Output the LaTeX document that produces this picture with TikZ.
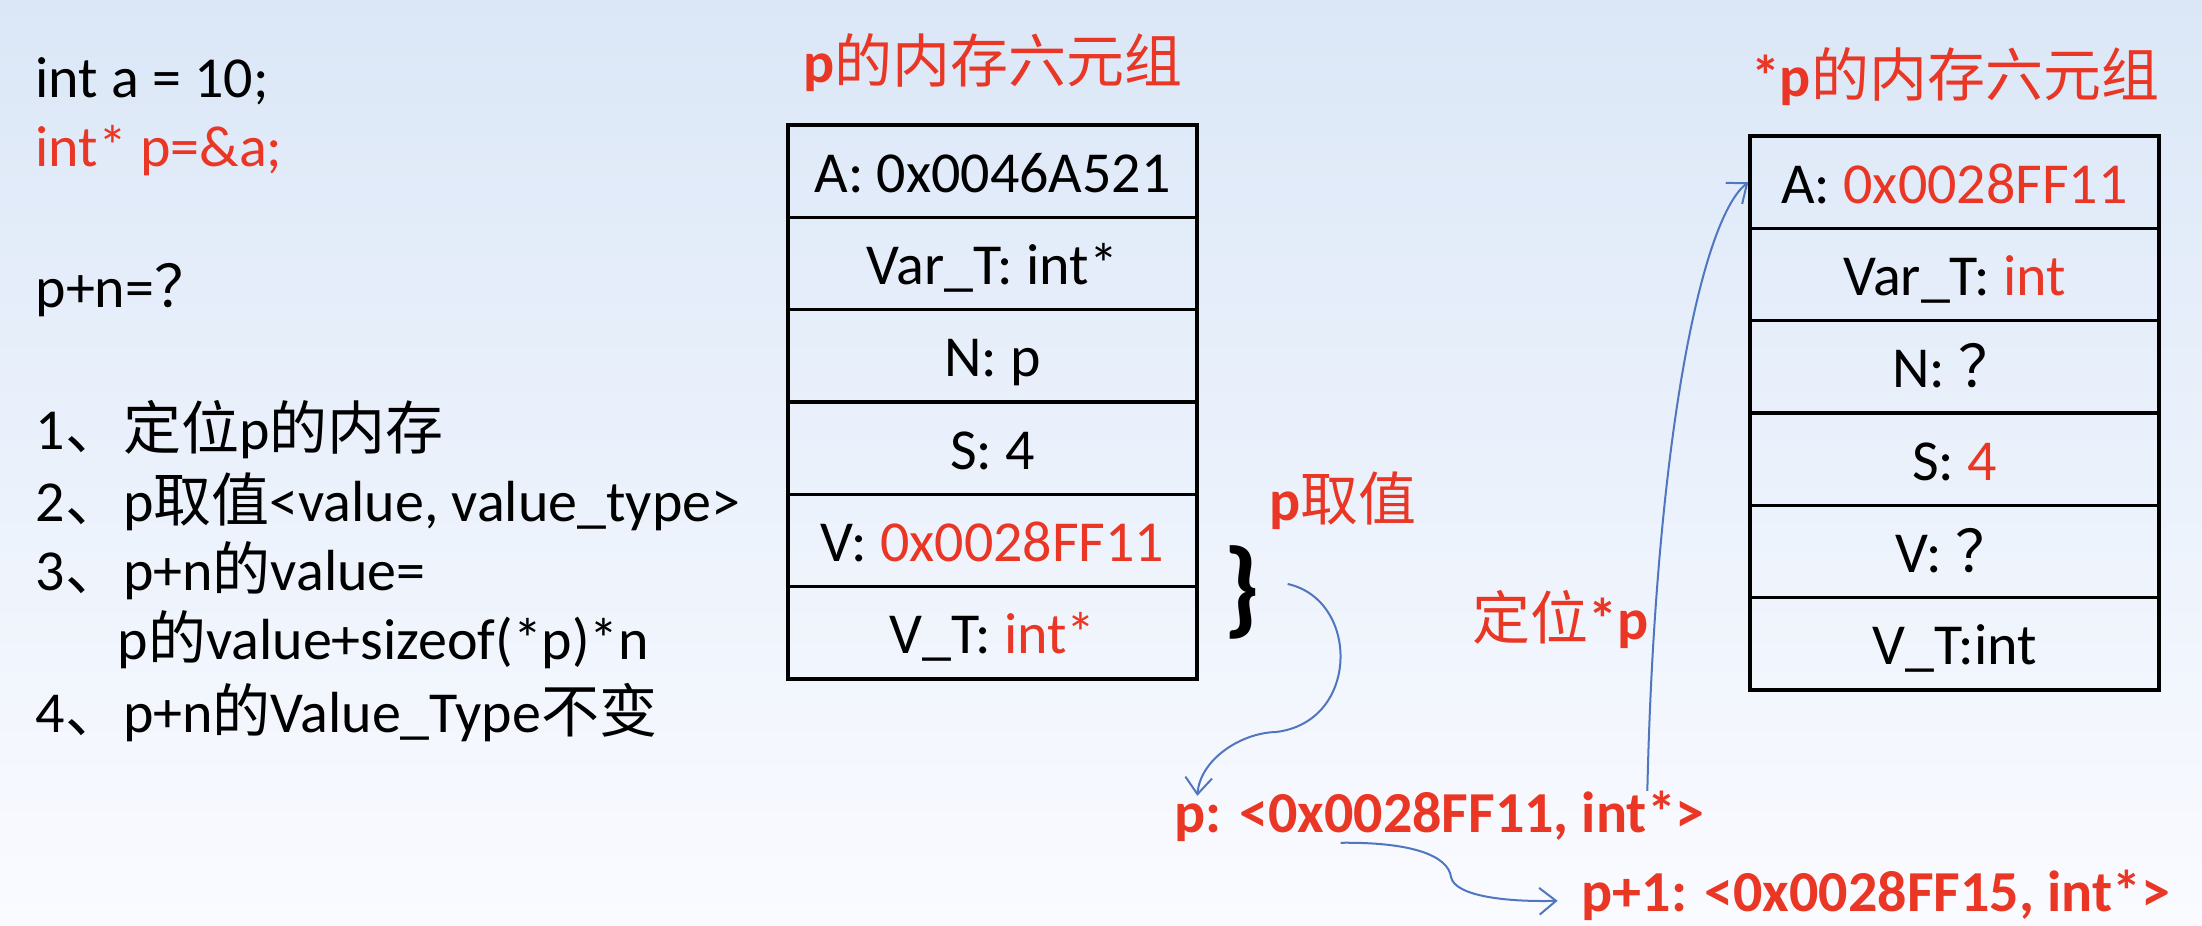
\documentclass[tikz,border=0pt]{standalone}
\usepackage{fontspec}
\setmainfont{Carlito}
\newfontfamily\cjk{Noto Sans CJK SC}
\usepackage{xcolor}
\usetikzlibrary{matrix,arrows.meta}
\definecolor{hlred}{RGB}{234,54,36}
\definecolor{linkblue}{RGB}{79,118,190}
\definecolor{bgtop}{RGB}{219,231,247}
\definecolor{bgmid}{RGB}{236,243,252}
\definecolor{bgbot}{RGB}{250,251,255}
\tikzset{
  tuplecell/.style={draw,line width=1pt,minimum width=122.7pt,minimum height=27.7pt,inner sep=0pt,text height=12.6pt,text depth=0pt},
  txt/.style={anchor=base west,inner sep=0pt},
  link/.style={draw=linkblue,line width=0.6pt,-{Straight Barb[length=5pt,width=8pt]}}
}
\begin{document}
\begin{tikzpicture}[x=0.3pt,y=-0.3pt,font=\fontsize{17.4pt}{21pt}\selectfont]
\shade[top color=bgtop,middle color=bgmid,bottom color=bgbot] (0,0) rectangle (2202,926);

% code and steps
\node[txt] (code1) at (35,98) {int a = 10;};
\node[txt,text=hlred] (code2) at (35,167) {int* p=\&a;};
\node[txt] (code3) at (35,308) {p+n={\cjk ？}};
\node[txt] (step1) at (35,450) {1{\cjk 、定位}p{\cjk 的内存}};
\node[txt] (step2) at (35,522) {2{\cjk 、}p{\cjk 取值}<value, value\_type>};
\node[txt] (step3) at (35,591) {3{\cjk 、}p+n{\cjk 的}value=};
\node[txt] (step3b) at (117,660) {p{\cjk 的}value+sizeof(*p)*n};
\node[txt] (step4) at (35,733) {4{\cjk 、}p+n{\cjk 的}Value\_Type{\cjk 不变}};

% the two six-tuples
\node[anchor=base,text=hlred] (ltitle) at (993,83) {\bfseries p{\cjk\mdseries 的内存六元组}};
\matrix (ltab) [matrix of nodes,nodes={tuplecell},row sep=-1pt,inner sep=0pt] at (992.5,402) {
A: 0x0046A521 \\
Var\_T: int* \\
N: p \\
S: 4 \\
V: \textcolor{hlred}{0x0028FF11} \\
V\_T: \textcolor{hlred}{int*} \\
};
\node[anchor=base,text=hlred] (rtitle) at (1955,97) {\bfseries *p{\cjk\mdseries 的内存六元组}};
\matrix (rtab) [matrix of nodes,nodes={tuplecell},row sep=-1pt,inner sep=0pt] at (1954.5,413) {
A: \textcolor{hlred}{0x0028FF11} \\
Var\_T: \textcolor{hlred}{int} \\
N: {\cjk ？} \\
S: \textcolor{hlred}{4} \\
V: {\cjk ？} \\
V\_T:int \\
};

% values and arrows
\node[inner sep=0pt,font=\fontsize{32pt}{32pt}\selectfont\bfseries] (brace) at (1242,592) {\}};
\node[txt,text=hlred] (ptake) at (1269,521) {\bfseries p{\cjk\mdseries 取值}};
\node[txt,text=hlred] (locate) at (1472,640) {{\cjk 定位}\bfseries *p};
\node[txt,text=hlred] (plabel) at (1174,833) {\bfseries p: <0x0028FF11, int*>};
\node[txt,text=hlred] (p1label) at (1581,912) {\bfseries p+1: <0x0028FF15, int*>};
\coordinate (hook) at (1276,732);
\draw[link] ([xshift=8pt,yshift=2.4pt]brace.east) .. controls (1360,600) and (1360,722) .. (hook)
  .. controls (1240,733) and (1200,760) .. ([xshift=7pt,yshift=-1.5pt]plabel.north west);
\draw[link] ([xshift=142pt]plabel.north west) .. controls (1655,450) and (1700,220) .. (rtab-1-1.west);
\draw[link] ([xshift=50pt]plabel.south west) .. controls (1410,842) and (1448,855) .. (1451,877)
  .. controls (1455,897) and (1510,902) .. ([xshift=-7pt,yshift=-1.5pt]p1label.west);
\end{tikzpicture}
\end{document}
